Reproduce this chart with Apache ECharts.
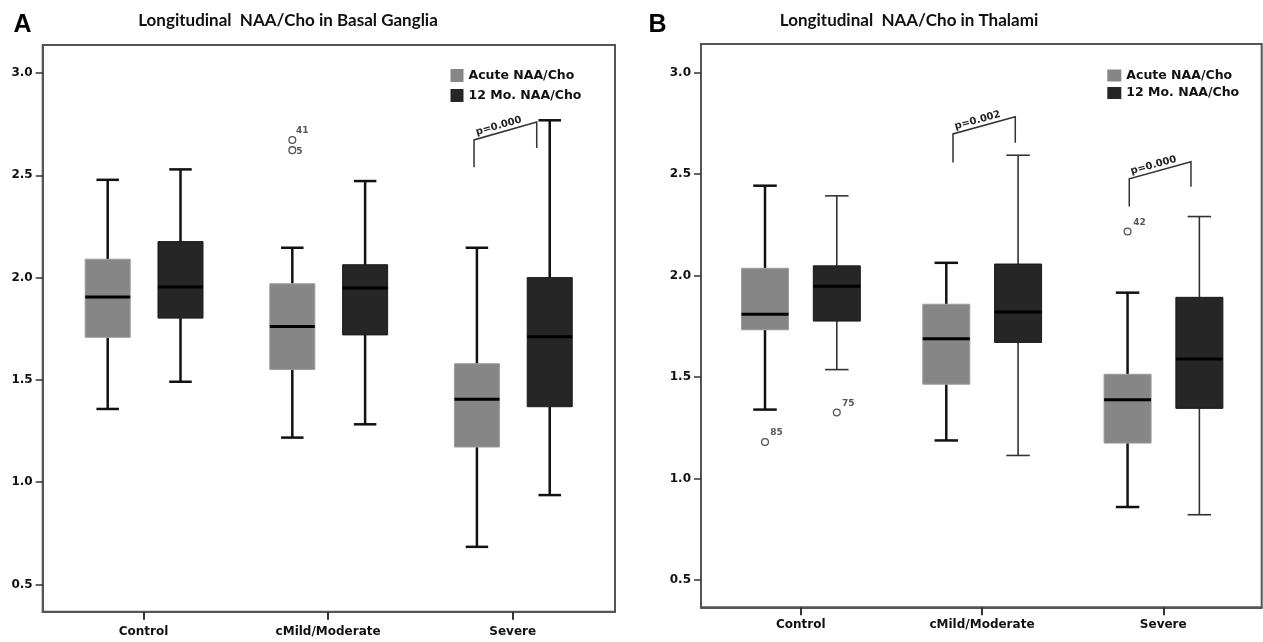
<!DOCTYPE html>
<html>
<head>
<meta charset="utf-8">
<script src="https://cdn.jsdelivr.net/npm/echarts@6/dist/echarts.min.js"></script>
<style>html,body{margin:0;padding:0;background:#fff;}#c{width:1263px;height:642px;}</style>
</head>
<body>
<div id="c"></div>
<script>
// ---------- data ----------
const categories = ['Control', 'cMild/Moderate', 'Severe'];
const yTicks = [0.5, 1.0, 1.5, 2.0, 2.5, 3.0];
const seriesNames = ['Acute NAA/Cho', '12 Mo. NAA/Cho'];

// Panel A: Basal Ganglia  [min, Q1, median, Q3, max] per category
const bgAcute = [[1.358, 1.708, 1.905, 2.090, 2.478], [1.218, 1.551, 1.761, 1.970, 2.146], [0.684, 1.172, 1.406, 1.579, 2.146]];
const bg12mo  = [[1.491, 1.802, 1.954, 2.176, 2.529], [1.283, 1.720, 1.949, 2.063, 2.472], [0.937, 1.369, 1.711, 2.000, 2.769]];
const bgOutAcute = [[1, 2.673, '41'], [1, 2.623, '5']];
const bgOut12mo = [];
// brackets: [category, leftBottom, leftTop, rightTop, rightBottom, text]
const bgP = [[2, 2.540, 2.673, 2.761, 2.634, 'p=0.000']];

// Panel B: Thalami
const thAcute = [[1.340, 1.733, 1.810, 2.036, 2.443], [1.188, 1.465, 1.689, 1.859, 2.063], [0.860, 1.175, 1.388, 1.514, 1.916]];
const th12mo  = [[1.537, 1.776, 1.948, 2.048, 2.393], [1.114, 1.671, 1.821, 2.057, 2.593], [0.822, 1.346, 1.589, 1.893, 2.291]];
const thOutAcute = [[0, 1.180, '85'], [2, 2.217, '42']];
const thOut12mo = [[0, 1.326, '75']];
const thP = [[1, 2.557, 2.698, 2.783, 2.655, 'p=0.002'], [2, 2.340, 2.477, 2.561, 2.438, 'p=0.000']];

// ---------- styles / layout ----------
const FONT = 'DejaVu Sans';
const C_ACUTE = '#868686', C_12 = '#262626';
const layoutA = { grid: {left: 42.7, top: 45, width: 572.3, height: 566.7}, xMin: -0.546, xMax: 2.554, yMin: 0.367, yMax: 3.137,
  off: [-35.8, 37], boxW: 45, labelMargin: 14, bracketOff: [[-38.7, 24]], outLabelOff: [[10, -9], [7, 1]], outLabelOff12: [] };
const layoutB = { grid: {left: 701, top: 44, width: 560.7, height: 563.3}, xMin: -0.55, xMax: 2.543, yMin: 0.366, yMax: 3.141,
  off: [-35.7, 36.1], boxW: 47, labelMargin: 11.5, bracketOff: [[-29, 33.3], [-34, 27.7]], outLabelOff: [[11.5, -9], [12, -9]], outLabelOff12: [[11.5, -9]] };

function toBoxData(arr) { return arr.map((d, i) => [i].concat(d)); }

function boxRender(offset, w, fill, stroke, wColor, wWidth) {
  return function (params, api) {
    const x = api.value(0);
    const p = api.coord([x, api.value(1)]);
    const cx = p[0] + offset;
    const y = (i) => api.coord([x, api.value(i)])[1];
    const yMin = y(1), yQ1 = y(2), yMed = y(3), yQ3 = y(4), yMax = y(5);
    const h = w / 2, cap = w / 4;
    const ls = {stroke: wColor, lineWidth: wWidth};
    return {type: 'group', children: [
      {type: 'line', shape: {x1: cx, y1: yMax, x2: cx, y2: yQ3}, style: ls},
      {type: 'line', shape: {x1: cx, y1: yQ1, x2: cx, y2: yMin}, style: ls},
      {type: 'line', shape: {x1: cx - cap, y1: yMax, x2: cx + cap, y2: yMax}, style: ls},
      {type: 'line', shape: {x1: cx - cap, y1: yMin, x2: cx + cap, y2: yMin}, style: ls},
      {type: 'rect', shape: {x: cx - h, y: yQ3, width: w, height: yQ1 - yQ3}, style: {fill: fill, stroke: stroke, lineWidth: 1}},
      {type: 'line', shape: {x1: cx - h, y1: yMed, x2: cx + h, y2: yMed}, style: {stroke: '#000', lineWidth: 3}}
    ]};
  };
}

function outlierRender(src, offset, labelOffs) {
  return function (params, api) {
    const x = api.value(0);
    const p = api.coord([x, api.value(1)]);
    const cx = p[0] + offset, cy = p[1];
    const lo = labelOffs[params.dataIndex] || [11, -9];
    return {type: 'group', children: [
      {type: 'circle', shape: {cx: cx, cy: cy, r: 3.4}, style: {fill: '#fff', stroke: '#555', lineWidth: 1.3}},
      {type: 'text', x: cx + lo[0], y: cy + lo[1], style: {text: src[params.dataIndex][2], font: 'bold 9px "' + FONT + '"', fill: '#555', align: 'center', verticalAlign: 'middle'}}
    ]};
  };
}

function bracketRender(src, offs) {
  return function (params, api) {
    const x = api.value(0);
    const o = offs[params.dataIndex];
    const c = api.coord([x, api.value(1)]);
    const xL = c[0] + o[0], xR = c[0] + o[1];
    const y = (i) => api.coord([x, api.value(i)])[1];
    const yLB = y(1), yLT = y(2), yRT = y(3), yRB = y(4);
    const ang = Math.atan2(yLT - yRT, xR - xL);
    const mx = (xL + xR) / 2, my = (yLT + yRT) / 2;
    const shift = -5, up = 1.5;
    const tx = mx + Math.cos(ang) * shift - Math.sin(ang) * up;
    const ty = my - Math.sin(ang) * shift - Math.cos(ang) * up;
    return {type: 'group', children: [
      {type: 'polyline', shape: {points: [[xL, yLB], [xL, yLT], [xR, yRT], [xR, yRB]]}, style: {stroke: '#333', lineWidth: 1.5, fill: 'none'}},
      {type: 'text', x: tx, y: ty, rotation: ang, style: {text: src[params.dataIndex][5], font: 'bold 10px "' + FONT + '"', fill: '#222', align: 'center', verticalAlign: 'bottom'}}
    ]};
  };
}

function axes(L, gi) {
  const x = {type: 'value', gridIndex: gi, min: L.xMin, max: L.xMax,
    axisLine: {show: true, onZero: false, lineStyle: {color: '#555', width: 2}},
    splitLine: {show: false},
    axisTick: {show: true, customValues: [0, 1, 2], length: 8, lineStyle: {color: '#333', width: 2}},
    axisLabel: {customValues: [0, 1, 2], formatter: (v) => categories[Math.round(v)], margin: L.labelMargin,
      fontFamily: FONT, fontWeight: 'bold', fontSize: 12, color: '#111'}};
  const y = {type: 'value', gridIndex: gi, min: L.yMin, max: L.yMax,
    axisLine: {show: true, onZero: false, lineStyle: {color: '#555', width: 2}},
    splitLine: {show: false},
    axisTick: {show: true, customValues: yTicks, length: 7, lineStyle: {color: '#333', width: 1.5}},
    axisLabel: {customValues: yTicks, formatter: (v) => v.toFixed(1), margin: 10,
      fontFamily: FONT, fontWeight: 'bold', fontSize: 12, color: '#111'}};
  return [x, y];
}

function panelSeries(L, gi, acute, twelve, outA, out12, pvals, wA, w12) {
  const common = {type: 'custom', xAxisIndex: gi, yAxisIndex: gi, silent: true, clip: false};
  const s = [
    Object.assign({}, common, {name: seriesNames[0], itemStyle: {color: C_ACUTE}, encode: {x: 0, y: [1, 2, 3, 4, 5]},
      renderItem: boxRender(L.off[0], L.boxW, C_ACUTE, '#9c9c9c', wA[0], wA[1]), data: toBoxData(acute)}),
    Object.assign({}, common, {name: seriesNames[1], itemStyle: {color: C_12}, encode: {x: 0, y: [1, 2, 3, 4, 5]},
      renderItem: boxRender(L.off[1], L.boxW, C_12, '#1a1a1a', w12[0], w12[1]), data: toBoxData(twelve)})
  ];
  if (outA.length) s.push(Object.assign({}, common, {name: 'outA' + gi, encode: {x: 0, y: 1},
    renderItem: outlierRender(outA, L.off[0], L.outLabelOff), data: outA.map(d => [d[0], d[1]])}));
  if (out12.length) s.push(Object.assign({}, common, {name: 'out12' + gi, encode: {x: 0, y: 1},
    renderItem: outlierRender(out12, L.off[1], L.outLabelOff12), data: out12.map(d => [d[0], d[1]])}));
  s.push(Object.assign({}, common, {name: 'p' + gi, encode: {x: 0, y: [1, 2, 3, 4]},
    renderItem: bracketRender(pvals, L.bracketOff), data: pvals.map(d => d.slice(0, 5))}));
  return s;
}

const axA = axes(layoutA, 0), axB = axes(layoutB, 1);
const legendBase = {orient: 'vertical', icon: 'rect', selectedMode: false, padding: 0,
  textStyle: {fontFamily: FONT, fontWeight: 'bold', fontSize: 12.5, color: '#111', lineHeight: 14},
  data: [{name: seriesNames[0], itemStyle: {color: C_ACUTE}}, {name: seriesNames[1], itemStyle: {color: C_12}}]};

const option = {
  backgroundColor: '#fff',
  animation: false,
  grid: [
    Object.assign({show: true, borderColor: '#555', borderWidth: 2, outerBoundsMode: 'none', containLabel: false}, layoutA.grid),
    Object.assign({show: true, borderColor: '#555', borderWidth: 2, outerBoundsMode: 'none', containLabel: false}, layoutB.grid)
  ],
  xAxis: [axA[0], axB[0]],
  yAxis: [axA[1], axB[1]],
  legend: [
    Object.assign({}, legendBase, {left: 450.5, top: 68.5, itemWidth: 13, itemHeight: 13, itemGap: 6}),
    Object.assign({}, legendBase, {left: 1107.3, top: 68.5, itemWidth: 14, itemHeight: 12, itemGap: 3.5})
  ],
  graphic: [
    {type: 'text', x: 22.5, y: 25, style: {text: 'A', font: 'bold 25px "Liberation Sans"', fill: '#000', align: 'center', verticalAlign: 'middle'}},
    {type: 'text', x: 657.5, y: 25, style: {text: 'B', font: 'bold 25px "Liberation Sans"', fill: '#000', align: 'center', verticalAlign: 'middle'}},
    {type: 'text', x: 288, y: 20.5, style: {text: 'Longitudinal  NAA/Cho in Basal Ganglia', font: 'bold 17px Lato', fill: '#111', align: 'center', verticalAlign: 'middle'}},
    {type: 'text', x: 909, y: 20.5, style: {text: 'Longitudinal  NAA/Cho in Thalami', font: 'bold 17px Lato', fill: '#111', align: 'center', verticalAlign: 'middle'}}
  ],
  series: [].concat(
    panelSeries(layoutA, 0, bgAcute, bg12mo, bgOutAcute, bgOut12mo, bgP, ['#111', 2.5], ['#111', 2.5]),
    panelSeries(layoutB, 1, thAcute, th12mo, thOutAcute, thOut12mo, thP, ['#111', 2.5], ['#333', 1.6])
  )
};

const chart = echarts.init(document.getElementById('c'), null, {renderer: 'canvas'});
chart.setOption(option);
</script>
</body>
</html>
